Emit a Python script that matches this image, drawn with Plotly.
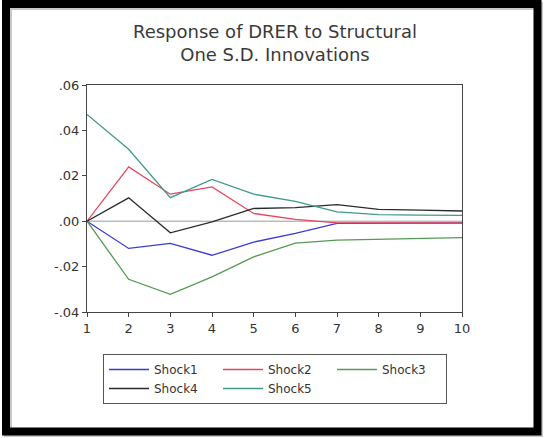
import plotly.graph_objects as go

periods = [1, 2, 3, 4, 5, 6, 7, 8, 9, 10]
shock1 = [0.0, -0.0120, -0.0098, -0.0150, -0.0092, -0.0054, -0.0010, -0.0009, -0.0008, -0.0008]
shock2 = [0.0, 0.0239, 0.0119, 0.0151, 0.0034, 0.0008, -0.0007, -0.0008, -0.0008, -0.0008]
shock3 = [0.0, -0.0256, -0.0322, -0.0245, -0.0157, -0.0097, -0.0083, -0.0080, -0.0078, -0.0072]
shock4 = [0.0, 0.0103, -0.0051, -0.0003, 0.0056, 0.0060, 0.0073, 0.0052, 0.0049, 0.0045]
shock5 = [0.047, 0.0317, 0.0104, 0.0184, 0.0119, 0.0087, 0.0041, 0.0029, 0.0027, 0.0026]
series_names = ["Shock1", "Shock2", "Shock3", "Shock4", "Shock5"]
series_colors = ["#3a3ad6", "#e8445c", "#559a55", "#2a2a2a", "#3f9a88"]
y_ticks = [-0.04, -0.02, 0.0, 0.02, 0.04, 0.06]
y_tick_labels = ["-.04", "-.02", ".00", ".02", ".04", ".06"]
title_text = "Response of DRER to Structural<br>One S.D. Innovations"

fig = go.Figure()
for name, vals, col in zip(series_names, [shock1, shock2, shock3, shock4, shock5], series_colors):
    fig.add_trace(go.Scatter(x=periods, y=vals, mode="lines", name=name,
                             line=dict(color=col, width=1.3)))

L, R, T, B = 87, 88, 85, 126
W, H = 550, 438
pw, ph = W - L - R, H - T - B

def px(xp):
    return (xp - L) / pw

def py(yp):
    return (H - B - yp) / ph

fig.add_shape(type="line", xref="paper", yref="y", x0=0, x1=1, y0=0, y1=0,
              line=dict(color="#9a9a9a", width=1), layer="below")
# outer frame
fig.add_shape(type="rect", xref="paper", yref="paper",
              x0=px(8), x1=px(539), y0=py(6), y1=py(433),
              line=dict(color="#c8c8c8", width=8))
fig.add_shape(type="rect", xref="paper", yref="paper",
              x0=px(6), x1=px(537.5), y0=py(4), y1=py(431.5),
              line=dict(color="#000000", width=8))

fig.update_layout(
    width=W, height=H,
    margin=dict(l=L, r=R, t=T, b=B),
    paper_bgcolor="white", plot_bgcolor="white",
    font=dict(family="DejaVu Sans, sans-serif", color="#333333", size=12),
    title=dict(text=title_text, x=0.5, xanchor="center", y=1 - 38 / H, yanchor="top",
               font=dict(size=18, color="#3a3a3a")),
    showlegend=True,
    legend=dict(orientation="h", x=px(103), xanchor="left", y=py(354), yanchor="top",
                bordercolor="#555555", borderwidth=1, bgcolor="white",
                font=dict(size=12, color="#333333"),
                entrywidth=59, entrywidthmode="pixels", itemwidth=40,
                tracegroupgap=0),
    xaxis=dict(range=[1, 10], tickmode="array", tickvals=periods,
               ticks="outside", ticklen=4, tickcolor="#444444",
               showline=True, linecolor="#444444", linewidth=1, mirror=True,
               showgrid=False, zeroline=False, tickfont=dict(size=13)),
    yaxis=dict(range=[-0.04, 0.06], tickmode="array", tickvals=y_ticks,
               ticktext=y_tick_labels, ticks="outside", ticklen=4, tickcolor="#444444",
               showline=True, linecolor="#444444", linewidth=1, mirror=True,
               showgrid=False, zeroline=False, tickfont=dict(size=13)),
)

fig.write_html("out.html")
